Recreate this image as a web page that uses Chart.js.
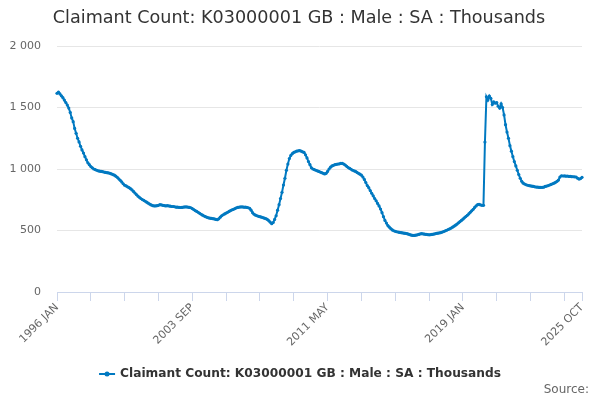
<!DOCTYPE html>
<html>
<head>
<meta charset="utf-8">
<script src="https://cdn.jsdelivr.net/npm/chart.js@4"></script>
<style>
  html, body { margin: 0; padding: 0; background: #fff; }
  #wrap { width: 600px; height: 400px; }
</style>
</head>
<body>
<div id="wrap"><canvas id="my-chart" width="600" height="400"></canvas></div>
<script>
const title = 'Claimant Count: K03000001 GB : Male : SA : Thousands';
const seriesName = 'Claimant Count: K03000001 GB : Male : SA : Thousands';

const firstYear = 1996;
const monthNames = ['JAN', 'FEB', 'MAR', 'APR', 'MAY', 'JUN', 'JUL', 'AUG', 'SEP', 'OCT', 'NOV', 'DEC'];

// thousands, monthly, 1996 JAN .. 2025 OCT
const values1996 = [1615, 1625, 1610, 1595, 1580, 1560, 1540, 1520, 1495, 1460, 1415, 1385];
const values1997 = [1330, 1290, 1250, 1220, 1185, 1155, 1130, 1100, 1075, 1050, 1035, 1020];
const values1998 = [1010, 1000, 995, 990, 985, 982, 980, 978, 975, 972, 970, 968];
const values1999 = [965, 960, 955, 950, 942, 932, 920, 908, 895, 880, 868, 862];
const values2000 = [855, 848, 840, 830, 818, 805, 792, 780, 770, 760, 752, 745];
const values2001 = [738, 730, 722, 715, 708, 703, 700, 700, 702, 705, 710, 708];
const values2002 = [705, 703, 700, 702, 700, 698, 695, 695, 693, 690, 690, 688];
const values2003 = [687, 688, 690, 692, 692, 690, 688, 685, 678, 670, 662, 655];
const values2004 = [648, 640, 632, 625, 618, 612, 607, 603, 600, 598, 596, 594];
const values2005 = [590, 588, 595, 608, 620, 628, 635, 642, 648, 655, 662, 668];
const values2006 = [672, 678, 684, 688, 690, 692, 692, 690, 690, 688, 685, 680];
const values2007 = [665, 645, 632, 625, 620, 615, 612, 608, 605, 600, 596, 590];
const values2008 = [580, 568, 555, 565, 590, 620, 665, 710, 760, 810, 870, 925];
const values2009 = [990, 1040, 1085, 1110, 1125, 1135, 1140, 1145, 1148, 1150, 1145, 1140];
const values2010 = [1135, 1115, 1090, 1060, 1035, 1010, 1000, 995, 990, 985, 980, 975];
const values2011 = [970, 965, 960, 965, 980, 1000, 1015, 1025, 1030, 1035, 1038, 1040];
const values2012 = [1042, 1045, 1045, 1040, 1032, 1022, 1012, 1005, 998, 990, 985, 980];
const values2013 = [972, 965, 958, 950, 935, 915, 890, 865, 848, 825, 803, 782];
const values2014 = [760, 742, 720, 700, 675, 645, 612, 582, 560, 540, 527, 515];
const values2015 = [505, 498, 493, 490, 487, 484, 482, 480, 478, 476, 474, 470];
const values2016 = [466, 462, 460, 460, 462, 465, 468, 472, 474, 472, 470, 468];
const values2017 = [467, 465, 466, 468, 470, 473, 476, 478, 480, 483, 487, 492];
const values2018 = [497, 502, 508, 514, 520, 527, 535, 543, 552, 562, 572, 582];
const values2019 = [592, 603, 613, 623, 635, 648, 660, 672, 688, 700, 710, 712];
const values2020 = [708, 705, 705, 1219, 1587, 1560, 1593, 1575, 1525, 1545, 1535, 1540];
const values2021 = [1510, 1495, 1530, 1500, 1440, 1360, 1300, 1250, 1190, 1145, 1100, 1060];
const values2022 = [1025, 990, 955, 925, 900, 885, 878, 872, 868, 865, 862, 860];
const values2023 = [858, 855, 853, 852, 850, 850, 851, 852, 858, 861, 865, 870];
const values2024 = [875, 880, 885, 892, 900, 910, 935, 945, 943, 944, 942, 943];
const values2025 = [940, 940, 938, 937, 936, 935, 925, 918, 922, 932];

const values = [].concat(
  values1996, values1997, values1998, values1999, values2000, values2001,
  values2002, values2003, values2004, values2005, values2006, values2007,
  values2008, values2009, values2010, values2011, values2012, values2013,
  values2014, values2015, values2016, values2017, values2018, values2019,
  values2020, values2021, values2022, values2023, values2024, values2025
);

const labels = values.map((v, i) => (firstYear + Math.floor(i / 12)) + ' ' + monthNames[i % 12]);

const tickEvery = 23;
const labelEvery = 92;
const yTicks = [0, 500, 1000, 1500, 2000];

const blue = '#0079c1';
const fontFamily = '"DejaVu Sans", sans-serif';

const lastIndex = values.length - 1;

Chart.register({
  id: 'custom_text',
  afterDraw: (chart) => {
    const ctx = chart.ctx;
    ctx.save();
    // title
    ctx.textAlign = 'center';
    ctx.textBaseline = 'middle';
    ctx.font = '17.6px ' + fontFamily;
    ctx.fillStyle = '#333333';
    ctx.fillText(title, 299, 18);

    // legend
    ctx.font = 'bold 12.2px ' + fontFamily;
    const tw = ctx.measureText(seriesName).width;
    const total = 16 + 5 + tw;
    const lx = 300 - total / 2;
    const ly = 374;
    ctx.strokeStyle = blue;
    ctx.lineWidth = 2;
    ctx.beginPath();
    ctx.moveTo(lx, ly);
    ctx.lineTo(lx + 16, ly);
    ctx.stroke();
    ctx.fillStyle = blue;
    ctx.beginPath();
    ctx.arc(lx + 8, ly, 2.5, 0, Math.PI * 2);
    ctx.fill();
    ctx.textAlign = 'left';
    ctx.fillStyle = '#333333';
    ctx.fillText(seriesName, lx + 21, ly);

    // source
    ctx.font = '12px ' + fontFamily;
    ctx.textAlign = 'right';
    ctx.fillStyle = '#666666';
    ctx.fillText('Source:', 589, 390);
    ctx.restore();
  }
});

const config = {
  type: 'line',
  data: {
    labels: labels,
    datasets: [{
      label: seriesName,
      data: values,
      borderColor: blue,
      backgroundColor: blue,
      borderWidth: 2,
      pointRadius: 1.6,
      pointBorderWidth: 0,
      pointBackgroundColor: blue,
      tension: 0
    }]
  },
  options: {
    responsive: false,
    animation: false,
    layout: {
      padding: { top: 46, right: 18, left: 0, bottom: 48 }
    },
    plugins: {
      legend: { display: false },
      title: { display: false },
      tooltip: { enabled: false }
    },
    scales: {
      x: {
        type: 'category',
        offset: false,
        afterBuildTicks: (scale) => {
          scale.ticks = scale.ticks.filter(t => t.value % tickEvery === 0 || t.value === lastIndex);
        },
        afterFit: (scale) => { scale.height = 60; },
        grid: {
          drawOnChartArea: false,
          drawTicks: true,
          tickLength: 9,
          color: '#ccd6eb'
        },
        border: { display: true, color: '#ccd6eb' },
        ticks: {
          autoSkip: false,
          maxRotation: 45,
          minRotation: 45,
          padding: 0,
          color: '#666666',
          font: { size: 11, family: fontFamily },
          callback: function (value) {
            if (value % labelEvery === 0 || value === lastIndex) {
              return this.getLabelForValue(value);
            }
            return '';
          }
        }
      },
      y: {
        min: 0,
        max: 2000,
        afterFit: (scale) => { scale.width = 57; },
        afterBuildTicks: (scale) => {
          scale.ticks = yTicks.map(v => ({ value: v }));
        },
        grid: {
          color: '#e6e6e6',
          drawTicks: false
        },
        border: { display: false },
        ticks: {
          padding: 16,
          color: '#666666',
          font: { size: 11, family: fontFamily },
          callback: (v) => String(v).replace(/\B(?=(\d{3})+(?!\d))/g, ' ')
        }
      }
    }
  }
};

new Chart(document.getElementById('my-chart'), config);
</script>
</body>
</html>
